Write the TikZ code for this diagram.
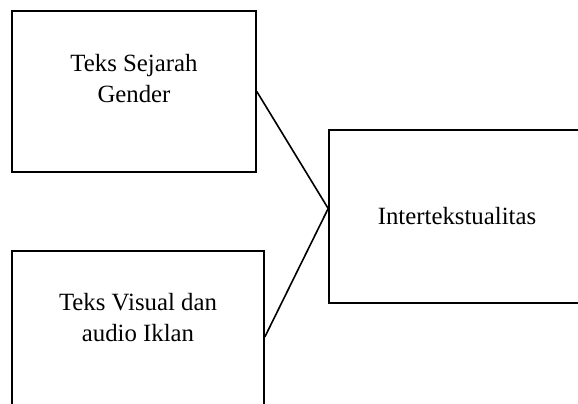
\documentclass[tikz,border=0pt]{standalone}
\usepackage{fontspec}
\setmainfont{Liberation Serif}
\usepackage{tikz}
\usetikzlibrary{positioning}

\begin{document}
\begin{tikzpicture}[
	font=\fontsize{12.4pt}{15.2pt}\selectfont,
	kotak/.style={rectangle, draw=black, line width=0.8pt, inner sep=0pt, align=center},
	kotakatas/.style={kotak, text height=45.5pt, text depth=35pt},
	garis/.style={line width=0.8pt, black},
]
\useasboundingbox (0,0) rectangle (289pt,-201.5pt);
\clip (0,0) rectangle (289pt,-201.5pt);
% Kolom kiri: dua jenis teks
\node[kotakatas, minimum width=122pt, minimum height=80.5pt] (b1) at (67pt,-45.75pt) {Teks Sejarah\\Gender};
\node[kotak, minimum width=126pt, minimum height=86pt, text height=45pt, text depth=41pt] (b2) at (69pt,-168.5pt) {Teks Visual dan\\audio Iklan};
% Kolom kanan
\node[kotak, minimum width=128pt, minimum height=86.5pt] (b3) at (228.5pt,-108.25pt) {Intertekstualitas};
\coordinate (temu) at ([yshift=4pt]b3.west);
\draw[garis] (b1.east)--(temu); \draw[garis] (b2.east)--(temu);
\end{tikzpicture}
\end{document}
